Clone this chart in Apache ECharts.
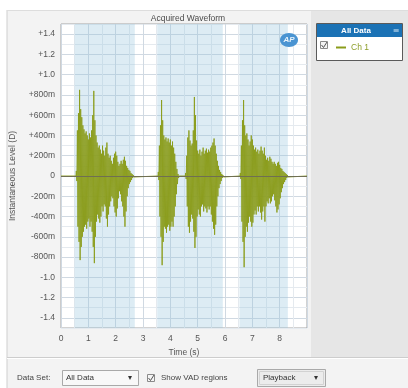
<!DOCTYPE html>
<html>
<head>
<meta charset="utf-8">
<script src="https://cdn.jsdelivr.net/npm/echarts@6/dist/echarts.min.js"></script>
<style>
  html, body { margin: 0; padding: 0; background: #ffffff; }
  #chart { width: 408px; height: 388px; }
</style>
</head>
<body>
<div id="chart"></div>
<script>
// Time axis ticks (seconds)
const timeTicks = [0, 1, 2, 3, 4, 5, 6, 7, 8];

// Level axis tick values and their printed labels
const levelTicks = [-1.4, -1.2, -1.0, -0.8, -0.6, -0.4, -0.2, 0, 0.2, 0.4, 0.6, 0.8, 1.0, 1.2, 1.4];
const levelTickLabels = ['-1.4', '-1.2', '-1.0', '-800m', '-600m', '-400m', '-200m', '0',
  '+200m', '+400m', '+600m', '+800m', '+1.0', '+1.2', '+1.4'];

// Voice-activity (VAD) regions, [start, end] in seconds
const vadStarts = [0.50, 3.52, 6.53];
const vadEnds = [2.70, 5.92, 8.30];

// Speech bursts: start time and per-cycle positive / negative peak levels
const cycleStep = 0.04;
const burstStarts = [0.56, 3.56, 4.56, 6.56];

const burst1Upper = [0.05, 0.45, 0.62, 0.85, 0.66, 0.58, 0.5, 0.46, 0.42, 0.44,
  0.4, 0.36, 0.42, 0.38, 0.45, 0.6, 0.84, 0.55, 0.4, 0.33,
  0.28, 0.3, 0.26, 0.22, 0.3, 0.25, 0.2, 0.28, 0.33, 0.22,
  0.18, 0.2, 0.15, 0.12, 0.18, 0.22, 0.24, 0.2, 0.14, 0.1,
  0.12, 0.15, 0.12, 0.16, 0.19, 0.15, 0.1, 0.08, 0.06, 0.05,
  0.03, 0.02, 0.01];
const burst1Lower = [-0.05, -0.5, -0.65, -0.83, -0.7, -0.6, -0.55, -0.5, -0.48, -0.52,
  -0.45, -0.42, -0.5, -0.45, -0.55, -0.7, -0.86, -0.6, -0.45, -0.38,
  -0.42, -0.46, -0.4, -0.3, -0.35, -0.28, -0.3, -0.42, -0.5, -0.38,
  -0.3, -0.25, -0.2, -0.22, -0.3, -0.36, -0.4, -0.32, -0.22, -0.15,
  -0.18, -0.25, -0.3, -0.4, -0.5, -0.35, -0.2, -0.12, -0.08, -0.06,
  -0.04, -0.02, -0.01];

const burst2Upper = [0.04, 0.3, 0.5, 0.75, 0.55, 0.4, 0.36, 0.38, 0.34, 0.37,
  0.33, 0.36, 0.3, 0.34, 0.28, 0.22, 0.14, 0.07, 0.02];
const burst2Lower = [-0.04, -0.4, -0.6, -0.88, -0.65, -0.5, -0.52, -0.56, -0.5, -0.48,
  -0.54, -0.5, -0.45, -0.5, -0.4, -0.3, -0.18, -0.08, -0.02];

const burst3Upper = [0.03, 0.2, 0.38, 0.45, 0.35, 0.3, 0.32, 0.45, 0.78, 0.6,
  0.35, 0.25, 0.22, 0.26, 0.2, 0.24, 0.28, 0.22, 0.25, 0.27,
  0.23, 0.26, 0.24, 0.28, 0.3, 0.33, 0.37, 0.3, 0.22, 0.15,
  0.1, 0.06, 0.04, 0.02, 0.01];
const burst3Lower = [-0.03, -0.3, -0.5, -0.56, -0.45, -0.38, -0.42, -0.55, -0.71, -0.6,
  -0.4, -0.33, -0.38, -0.4, -0.3, -0.28, -0.35, -0.3, -0.32, -0.36,
  -0.3, -0.33, -0.3, -0.38, -0.45, -0.52, -0.58, -0.48, -0.3, -0.2,
  -0.12, -0.08, -0.05, -0.02, -0.01];

const burst4Upper = [0.03, 0.3, 0.55, 0.75, 0.5, 0.4, 0.42, 0.36, 0.3, 0.34,
  0.4, 0.36, 0.3, 0.26, 0.28, 0.24, 0.26, 0.22, 0.25, 0.29,
  0.25, 0.22, 0.28, 0.2, 0.16, 0.18, 0.15, 0.19, 0.17, 0.14,
  0.12, 0.14, 0.12, 0.1, 0.13, 0.14, 0.11, 0.08, 0.07, 0.05,
  0.04, 0.03, 0.02, 0.01];
const burst4Lower = [-0.03, -0.45, -0.65, -0.9, -0.6, -0.5, -0.55, -0.46, -0.4, -0.45,
  -0.5, -0.46, -0.38, -0.34, -0.38, -0.3, -0.35, -0.3, -0.36, -0.43,
  -0.35, -0.3, -0.45, -0.3, -0.25, -0.27, -0.22, -0.27, -0.25, -0.2,
  -0.18, -0.24, -0.3, -0.36, -0.33, -0.28, -0.22, -0.16, -0.12, -0.08,
  -0.06, -0.04, -0.02, -0.01];

const timeMin = 0, timeMax = 9;
const levelMin = -1.5, levelMax = 1.5;

// Assemble the waveform: silence at 0 between bursts, zig-zag between peaks inside them
const bursts = [
  [burst1Upper, burst1Lower],
  [burst2Upper, burst2Lower],
  [burst3Upper, burst3Lower],
  [burst4Upper, burst4Lower]
];
const wave = [[timeMin, 0]];
bursts.forEach(function (b, k) {
  const t0 = burstStarts[k];
  wave.push([t0 - 0.01, 0]);
  const n = Math.min(b[0].length, b[1].length);
  for (let i = 0; i < n; i++) {
    const t = t0 + i * cycleStep;
    wave.push([t, b[0][i]]);
    wave.push([t + cycleStep / 2, b[1][i]]);
  }
  wave.push([t0 + n * cycleStep, 0]);
});
wave.push([timeMax, 0]);

const vadAreas = vadStarts.map(function (s, i) {
  return [{ xAxis: s }, { xAxis: vadEnds[i] }];
});

const labelFont = 'Liberation Sans';
const waveColor = '#8a9c1a';

function levelLabel(v) {
  const n = Math.round(v * 10);
  for (let i = 0; i < levelTicks.length; i++) {
    if (Math.round(levelTicks[i] * 10) === n) return levelTickLabels[i];
  }
  return '';
}

const chart = echarts.init(document.getElementById('chart'), null, { renderer: 'canvas' });

chart.setOption({
  animation: false,
  backgroundColor: '#ffffff',
  title: {
    text: 'Acquired Waveform',
    left: 183,
    top: 9,
    textAlign: 'center',
    textStyle: { fontFamily: labelFont, fontSize: 8.5, fontWeight: 'normal', color: '#4a4a4a' }
  },
  legend: {
    left: 331,
    top: 38,
    z: 30,
    zlevel: 0,
    itemWidth: 10,
    itemHeight: 2,
    itemGap: 4,
    icon: 'rect',
    selectedMode: false,
    textStyle: { fontFamily: labelFont, fontSize: 8.5, color: '#8d9e2a' },
    data: ['Ch 1']
  },
  grid: {
    left: 60, right: 101, top: 24, bottom: 60,
    show: true,
    backgroundColor: '#ffffff',
    borderColor: '#a4a4a4',
    borderWidth: 1
  },
  xAxis: {
    type: 'value',
    min: timeMin, max: timeMax, interval: 1,
    name: 'Time (s)',
    nameLocation: 'middle',
    nameGap: 20,
    nameTextStyle: { fontFamily: labelFont, fontSize: 8.5, color: '#555' },
    axisLine: { show: false },
    axisTick: { show: false },
    axisLabel: {
      fontFamily: labelFont, fontSize: 8.5, color: '#555', margin: 6,
      formatter: function (v) { return timeTicks.indexOf(v) >= 0 ? String(v) : ''; }
    },
    splitLine: { show: true, lineStyle: { color: '#d0d9e2', width: 1 } },
    minorTick: { show: false, splitNumber: 2 },
    minorSplitLine: { show: true, lineStyle: { color: '#e5eaef', width: 1 } }
  },
  yAxis: {
    type: 'value',
    min: levelMin, max: levelMax, interval: 0.1,
    name: 'Instantaneous Level (D)',
    nameLocation: 'middle',
    nameGap: 44,
    nameTextStyle: { fontFamily: labelFont, fontSize: 8.5, color: '#555' },
    axisLine: { show: false },
    axisTick: { show: false },
    axisLabel: {
      fontFamily: labelFont, fontSize: 8.5, color: '#555', margin: 6,
      formatter: levelLabel
    },
    splitLine: { show: true, lineStyle: { color: ['#e5eaef', '#d0d9e2'], width: 1 } }
  },
  series: [{
    name: 'Ch 1',
    type: 'line',
    data: wave,
    showSymbol: false,
    symbol: 'none',
    lineStyle: { color: waveColor, width: 0.9 },
    itemStyle: { color: waveColor },
    z: 3,
    markArea: {
      silent: true,
      itemStyle: { color: 'rgba(150,195,222,0.32)' },
      data: vadAreas
    },
    markLine: {
      silent: true,
      symbol: 'none',
      label: { show: false },
      lineStyle: { color: '#6f6f52', width: 1, type: 'solid' },
      data: [{ yAxis: 0 }],
      z: 4
    }
  }],
  graphic: [
    // window panels
    { type: 'rect', z: -10, shape: { x: 7, y: 10, width: 401, height: 378 }, style: { fill: '#f3f3f3' } },
    { type: 'rect', z: -9, shape: { x: 311, y: 10, width: 97, height: 347 }, style: { fill: '#e6e6e6' } },
    { type: 'line', z: -8, shape: { x1: 7, y1: 10, x2: 7, y2: 388 }, style: { stroke: '#cfcfcf', lineWidth: 1 } },
    { type: 'line', z: -8, shape: { x1: 7, y1: 10.5, x2: 408, y2: 10.5 }, style: { stroke: '#dddddd', lineWidth: 1 } },
    { type: 'line', z: -8, shape: { x1: 7, y1: 357.5, x2: 408, y2: 357.5 }, style: { stroke: '#cdcdcd', lineWidth: 1 } },
    { type: 'line', z: -8, shape: { x1: 7, y1: 358.5, x2: 408, y2: 358.5 }, style: { stroke: '#ffffff', lineWidth: 1 } },

    // logo in the plot corner
    { type: 'ellipse', z: 10, shape: { cx: 289, cy: 40, rx: 9, ry: 7 }, style: { fill: '#4a94d2' } },
    { type: 'text', z: 11, x: 289, y: 40, style: { text: 'AP', fill: '#e8f3fb', font: 'italic bold 8px Liberation Sans', align: 'center', verticalAlign: 'middle' } },

    // data-set box on the right
    { type: 'rect', z: 1, shape: { x: 316.5, y: 23.5, width: 86, height: 37 }, style: { fill: '#ffffff', stroke: '#5a5a5a', lineWidth: 1 } },
    { type: 'rect', z: 2, shape: { x: 317, y: 24, width: 85, height: 13 }, style: { fill: '#1b72b5' } },
    { type: 'text', z: 3, x: 356, y: 30.5, style: { text: 'All Data', fill: '#ffffff', font: 'bold 8px Liberation Sans', align: 'center', verticalAlign: 'middle' } },
    { type: 'text', z: 3, x: 396, y: 30.5, style: { text: '≡', fill: '#cfe3f3', font: '8px DejaVu Sans', align: 'center', verticalAlign: 'middle' } },
    { type: 'rect', z: 3, shape: { x: 320.5, y: 41.5, width: 7, height: 7 }, style: { fill: '#f4f4f4', stroke: '#8a8a8a', lineWidth: 1 } },
    { type: 'polyline', z: 4, shape: { points: [[321.5, 45], [323.5, 47.5], [327, 42]] }, style: { stroke: '#555', lineWidth: 1, fill: null } },

    // toolbar
    { type: 'text', z: 10, x: 17, y: 378, style: { text: 'Data Set:', fill: '#444', font: '8px Liberation Sans', verticalAlign: 'middle' } },
    { type: 'rect', z: 10, shape: { x: 62.5, y: 370.5, width: 76, height: 15 }, style: { fill: '#f8f8f8', stroke: '#a9a9a9', lineWidth: 1 } },
    { type: 'text', z: 11, x: 66, y: 378, style: { text: 'All Data', fill: '#333', font: '8px Liberation Sans', verticalAlign: 'middle' } },
    { type: 'text', z: 11, x: 130, y: 378, style: { text: '▾', fill: '#333', font: '8px DejaVu Sans', align: 'center', verticalAlign: 'middle' } },
    { type: 'rect', z: 10, shape: { x: 147.5, y: 374.5, width: 7, height: 7 }, style: { fill: '#f4f4f4', stroke: '#8a8a8a', lineWidth: 1 } },
    { type: 'polyline', z: 11, shape: { points: [[148.5, 378], [150.5, 380.5], [154, 375]] }, style: { stroke: '#555', lineWidth: 1, fill: null } },
    { type: 'text', z: 10, x: 161, y: 378, style: { text: 'Show VAD regions', fill: '#444', font: '8px Liberation Sans', verticalAlign: 'middle' } },
    { type: 'rect', z: 10, shape: { x: 257.5, y: 369.5, width: 68, height: 17 }, style: { fill: '#ececec', stroke: '#a9a9a9', lineWidth: 1 } },
    { type: 'rect', z: 10, shape: { x: 259.5, y: 371.5, width: 64, height: 13 }, style: { fill: null, stroke: '#d2d2d2', lineWidth: 1 } },
    { type: 'text', z: 11, x: 263, y: 378, style: { text: 'Playback', fill: '#333', font: '8px Liberation Sans', verticalAlign: 'middle' } },
    { type: 'text', z: 11, x: 316, y: 378, style: { text: '▾', fill: '#333', font: '8px DejaVu Sans', align: 'center', verticalAlign: 'middle' } }
  ]
});
</script>
</body>
</html>
